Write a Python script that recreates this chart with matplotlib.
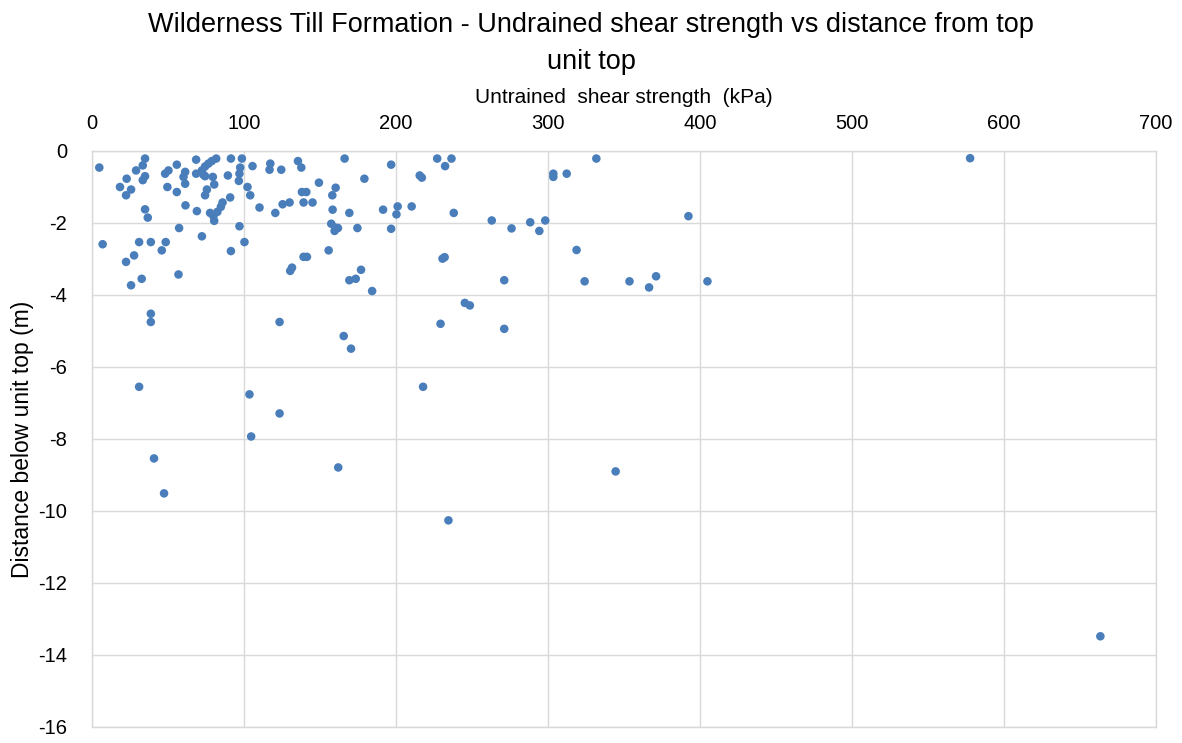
import matplotlib
matplotlib.use("Agg")
import matplotlib.pyplot as plt

plt.rcParams['font.family'] = ['Liberation Sans', 'DejaVu Sans']
plt.rcParams['axes.unicode_minus'] = False

title = "Wilderness Till Formation - Undrained shear strength vs distance from top\nunit top"
x_label = "Untrained  shear strength  (kPa)"
y_label = "Distance below unit top (m)"
x_ticks = [0, 100, 200, 300, 400, 500, 600, 700]
y_ticks = [0, -2, -4, -6, -8, -10, -12, -14, -16]

shear_strength = [
    4.8, 34.9, 33.4, 29.0, 34.9, 33.4, 22.8, 18.4, 25.7, 22.4, 34.9, 36.7,
    48.1, 50.3, 55.8, 49.6, 55.8, 61.3, 60.2, 61.3, 61.5, 68.5, 68.5, 72.3,
    74.4, 76.6, 78.8, 81.7, 74.4, 79.5, 80.4, 75.6, 74.4, 69.0, 77.7, 79.9,
    80.4, 82.5, 84.8, 85.9, 91.4, 89.4, 90.9, 98.6, 97.5, 97.0, 96.6, 102.3,
    104.1, 105.6, 110.2, 117.3, 116.8, 120.6, 97.0, 57.3, 72.3, 100.3, 91.4,
    7.0, 31.0, 38.7, 48.5, 45.9, 27.7, 22.4, 32.7, 25.7, 56.9, 73.3,
    124.5, 135.5, 137.7, 166.2, 196.8, 227.1, 232.3, 236.5, 215.6, 217.0,
    179.2, 149.3, 160.3, 138.1, 141.0, 158.1, 130.0, 125.4, 139.2, 145.1,
    158.3, 169.3, 191.5, 201.1, 200.3, 210.3, 238.0, 157.4, 160.1, 161.8,
    159.6, 174.6, 196.8, 155.7, 139.2, 141.4, 131.6, 130.4, 177.0, 169.3,
    173.5, 184.3, 230.6, 232.0,
    38.7, 38.7, 31.0, 103.6, 123.4, 123.4,
    165.6, 170.4, 229.3, 245.3, 248.6, 217.8,
    331.8, 303.5, 303.5, 312.3, 263.0, 276.0, 288.3, 294.3, 298.2, 392.4,
    318.8, 271.2, 324.1, 353.6, 366.5, 371.1, 404.9, 271.2,
    577.7, 663.4, 344.5, 234.5, 162.0, 104.7, 40.8, 47.4,
]

depth = [
    -0.46, -0.21, -0.40, -0.54, -0.70, -0.81, -0.77, -1.00, -1.07, -1.23, -1.62, -1.85,
    -0.63, -0.54, -0.38, -1.00, -1.14, -0.58, -0.72, -0.91, -1.51, -0.24, -0.63, -0.54,
    -0.43, -0.35, -0.28, -0.21, -0.70, -0.72, -0.93, -1.07, -1.23, -1.67, -1.72, -1.81,
    -1.94, -1.69, -1.55, -1.43, -0.21, -0.68, -1.29, -0.21, -0.46, -0.63, -0.83, -1.00,
    -1.23, -0.42, -1.57, -0.35, -0.52, -1.72, -2.09, -2.14, -2.37, -2.53, -2.78,
    -2.59, -2.53, -2.53, -2.53, -2.76, -2.90, -3.08, -3.55, -3.73, -3.43, -0.66,
    -0.52, -0.28, -0.46, -0.21, -0.38, -0.21, -0.42, -0.21, -0.68, -0.74,
    -0.77, -0.88, -1.02, -1.14, -1.14, -1.23, -1.43, -1.48, -1.43, -1.43,
    -1.63, -1.72, -1.63, -1.54, -1.76, -1.54, -1.72, -2.02, -2.13, -2.14,
    -2.22, -2.14, -2.16, -2.76, -2.94, -2.94, -3.24, -3.33, -3.30, -3.59,
    -3.55, -3.89, -2.99, -2.95,
    -4.52, -4.75, -6.55, -6.76, -4.75, -7.29,
    -5.14, -5.49, -4.80, -4.22, -4.29, -6.55,
    -0.21, -0.63, -0.72, -0.63, -1.93, -2.15, -1.98, -2.22, -1.93, -1.81,
    -2.75, -3.59, -3.62, -3.62, -3.79, -3.48, -3.62, -4.94,
    -0.20, -13.48, -8.90, -10.26, -8.79, -7.93, -8.54, -9.51,
]

fig = plt.figure(figsize=(11.82, 7.43), dpi=100)
ax = fig.add_axes([92/1182, 1 - 727/743, (1156 - 92)/1182, (727 - 151)/743])

ax.scatter(shear_strength, depth, s=38, color='#4A7EBB', edgecolors='none', zorder=3)

ax.set_xlim(0, 700)
ax.set_ylim(-16, 0)
ax.set_xticks(x_ticks)
ax.set_yticks(y_ticks)
ax.xaxis.tick_top()
ax.xaxis.set_label_position('top')
ax.tick_params(axis='both', length=0, labelsize=14.5, colors='#000000')
ax.tick_params(axis='x', pad=13)
ax.tick_params(axis='y', pad=18)
ax.grid(True, color='#D9D9D9', linewidth=1.0, zorder=0)
for sp in ax.spines.values():
    sp.set_color('#D9D9D9')
    sp.set_linewidth(1.0)

ax.set_xlabel(x_label, fontsize=15, labelpad=8)
ax.set_ylabel(y_label, fontsize=16.5, labelpad=3)
fig.text(0.5, 0.984, title, ha='center', va='top', fontsize=19.5, linespacing=1.55)

fig.savefig('out.png', dpi=100)
